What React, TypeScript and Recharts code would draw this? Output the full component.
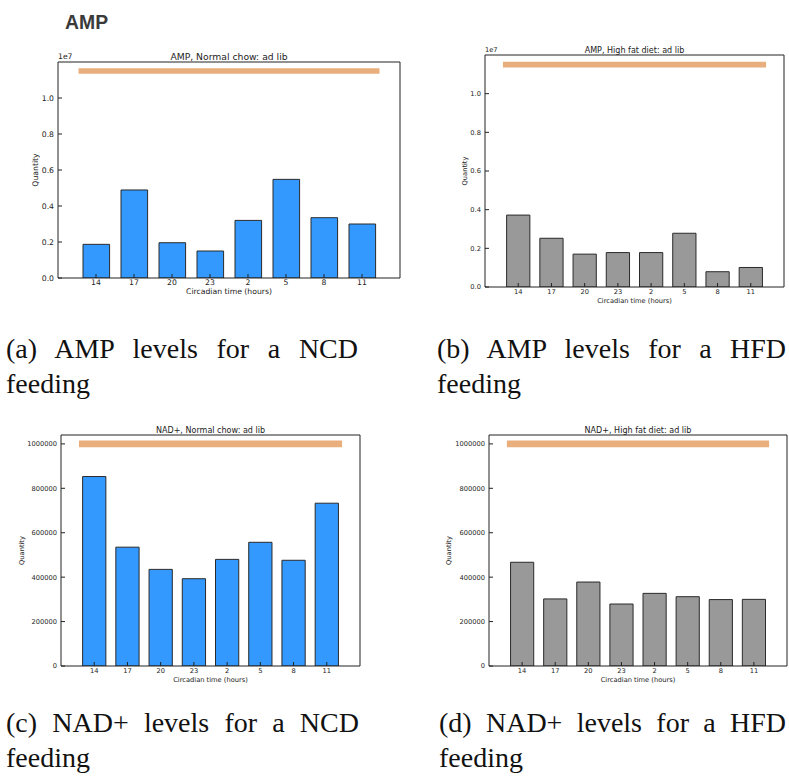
import React from "react";
import { BarChart, Bar, XAxis, YAxis, ReferenceArea } from "recharts";

// circadian sampling times (hours)
const hours = ["14", "17", "20", "23", "2", "5", "8", "11"];

const ampNormal = [1.87e6, 4.89e6, 1.96e6, 1.5e6, 3.2e6, 5.48e6, 3.35e6, 3.0e6];
const ampHighFat = [3.72e6, 2.52e6, 1.7e6, 1.78e6, 1.78e6, 2.78e6, 0.79e6, 1.01e6];
const nadNormal = [853000, 535000, 435000, 393000, 480000, 557000, 476000, 733000];
const nadHighFat = [467000, 302000, 378000, 279000, 327000, 312000, 299000, 300000];

const ampTicks = [0, 2e6, 4e6, 6e6, 8e6, 1e7];
const nadTicks = [0, 200000, 400000, 600000, 800000, 1000000];

// orange "ad lib" feeding band, in axis units
const feedingSpan = [-0.46, 7.46];
const ampBand = [1.135e7, 1.165e7];
const nadBand = [985000, 1015000];

const FONT = "'DejaVu Sans', sans-serif";
const INK = "#222";

type Frame = { l: number; t: number; r: number; b: number };

type PanelProps = {
  values: number[];
  color: string;
  title: string;
  yMax: number;
  yTicks: number[];
  formatY: (v: number) => string;
  band: number[];
  fs: number;
  frame: Frame;
  ylabelGap: number;
  offsetText?: string;
};

const YW = 50;
const XH = 25;
const MT = 20;

function Panel({ values, color, title, yMax, yTicks, formatY, band, fs, frame, ylabelGap, offsetText }: PanelProps) {
  const plotW = Math.round(frame.r - frame.l);
  const plotH = Math.round(frame.b - frame.t);
  const width = plotW + YW + 1;
  const height = MT + 1 + plotH + XH;
  const data = values.map((v, i) => ({ x: i, value: v }));
  const xTicks = hours.map((_, i) => i);
  const tickStyle = { fontSize: fs, fill: INK, fontFamily: FONT };
  const barSize = (0.7 * plotW) / 9;

  return (
    <>
      <div style={{ position: "absolute", left: frame.l - YW, top: frame.t - MT - 1 }}>
        <BarChart width={width} height={height} data={data} margin={{ top: MT, right: 0, bottom: 0, left: 0 }}>
          <XAxis
            type="number"
            dataKey="x"
            domain={[-1, 8]}
            ticks={xTicks}
            interval={0}
            allowDataOverflow
            tickFormatter={(i: number) => hours[i]}
            height={XH}
            tickSize={-4}
            tickMargin={6}
            stroke={INK}
            tick={tickStyle}
            label={{
              value: "Circadian time (hours)",
              position: "insideBottom",
              offset: 9,
              style: { fontSize: fs, fill: INK, fontFamily: FONT },
            }}
          />
          <XAxis
            xAxisId="top"
            orientation="top"
            type="number"
            domain={[-1, 8]}
            ticks={xTicks}
            interval={0}
            allowDataOverflow
            height={1}
            tick={false}
            tickSize={-4}
            stroke={INK}
            label={{
              value: title,
              position: "top",
              offset: 1.5,
              style: { fontSize: fs * 1.2, fill: INK, fontFamily: FONT },
            }}
          />
          <YAxis
            type="number"
            domain={[0, yMax]}
            ticks={yTicks}
            interval={0}
            allowDataOverflow
            tickFormatter={formatY}
            width={YW}
            tickSize={-4}
            tickMargin={8}
            stroke={INK}
            tick={tickStyle}
            label={{
              value: "Quantity",
              angle: -90,
              position: "insideLeft",
              offset: YW - ylabelGap,
              style: { fontSize: fs, fill: INK, fontFamily: FONT, textAnchor: "middle" },
            }}
          />
          <YAxis
            yAxisId="right"
            orientation="right"
            type="number"
            domain={[0, yMax]}
            ticks={yTicks}
            interval={0}
            allowDataOverflow
            width={1}
            tick={false}
            tickSize={-4}
            stroke={INK}
          />
          <ReferenceArea
            x1={feedingSpan[0]}
            x2={feedingSpan[1]}
            y1={band[0]}
            y2={band[1]}
            fill="#E8AE7C"
            fillOpacity={1}
            stroke="none"
            ifOverflow="visible"
          />
          <Bar
            dataKey="value"
            fill={color}
            stroke="#2a2a2a"
            strokeWidth={1}
            barSize={barSize}
            isAnimationActive={false}
          />
        </BarChart>
      </div>
      {offsetText && (
        <div
          style={{
            position: "absolute",
            left: frame.l,
            top: frame.t - 10,
            fontSize: fs,
            lineHeight: "10px",
            fontFamily: FONT,
            color: INK,
          }}
        >
          {offsetText}
        </div>
      )}
    </>
  );
}

const captionStyle: React.CSSProperties = {
  position: "absolute",
  fontFamily: "'Liberation Serif', 'Times New Roman', serif",
  fontSize: 28,
  lineHeight: "35px",
  textAlign: "justify",
  color: "#111",
};

const ampFmt = (v: number) => (v / 1e7).toFixed(1);
const nadFmt = (v: number) => String(v);

export default function App() {
  return (
    <div
      style={{
        position: "absolute",
        left: 0,
        top: 0,
        width: 789,
        height: 780,
        overflow: "hidden",
        background: "#fff",
      }}
    >
      <div
        style={{
          position: "absolute",
          left: 65,
          top: 10.6,
          fontFamily: "'Liberation Sans', Arial, sans-serif",
          fontWeight: 700,
          fontSize: 19.4,
          lineHeight: "22px",
          color: "#3a3a3a",
        }}
      >
        AMP
      </div>

      <Panel
        values={ampNormal}
        color="#3399FF"
        title="AMP, Normal chow: ad lib"
        yMax={1.2e7}
        yTicks={ampTicks}
        formatY={ampFmt}
        band={ampBand}
        fs={7.7}
        frame={{ l: 58, t: 62, r: 400, b: 278 }}
        ylabelGap={23}
        offsetText="1e7"
      />
      <Panel
        values={ampHighFat}
        color="#999999"
        title="AMP, High fat diet: ad lib"
        yMax={1.2e7}
        yTicks={ampTicks}
        formatY={ampFmt}
        band={ampBand}
        fs={6.7}
        frame={{ l: 485, t: 55, r: 784, b: 286.7 }}
        ylabelGap={20}
        offsetText="1e7"
      />
      <Panel
        values={nadNormal}
        color="#3399FF"
        title="NAD+, Normal chow: ad lib"
        yMax={1.04e6}
        yTicks={nadTicks}
        formatY={nadFmt}
        band={nadBand}
        fs={6.7}
        frame={{ l: 61, t: 435, r: 359.5, b: 666 }}
        ylabelGap={39}
      />
      <Panel
        values={nadHighFat}
        color="#999999"
        title="NAD+, High fat diet: ad lib"
        yMax={1.04e6}
        yTicks={nadTicks}
        formatY={nadFmt}
        band={nadBand}
        fs={6.7}
        frame={{ l: 489.3, t: 435, r: 787.5, b: 666 }}
        ylabelGap={40}
      />

      <div style={{ ...captionStyle, left: 6, top: 331, width: 352 }}>(a) AMP levels for a NCD feeding</div>
      <div style={{ ...captionStyle, left: 437, top: 331, width: 349 }}>(b) AMP levels for a HFD feeding</div>
      <div style={{ ...captionStyle, left: 6, top: 705, width: 353 }}>(c) NAD+ levels for a NCD feeding</div>
      <div style={{ ...captionStyle, left: 439, top: 705, width: 347 }}>(d) NAD+ levels for a HFD feeding</div>
    </div>
  );
}
